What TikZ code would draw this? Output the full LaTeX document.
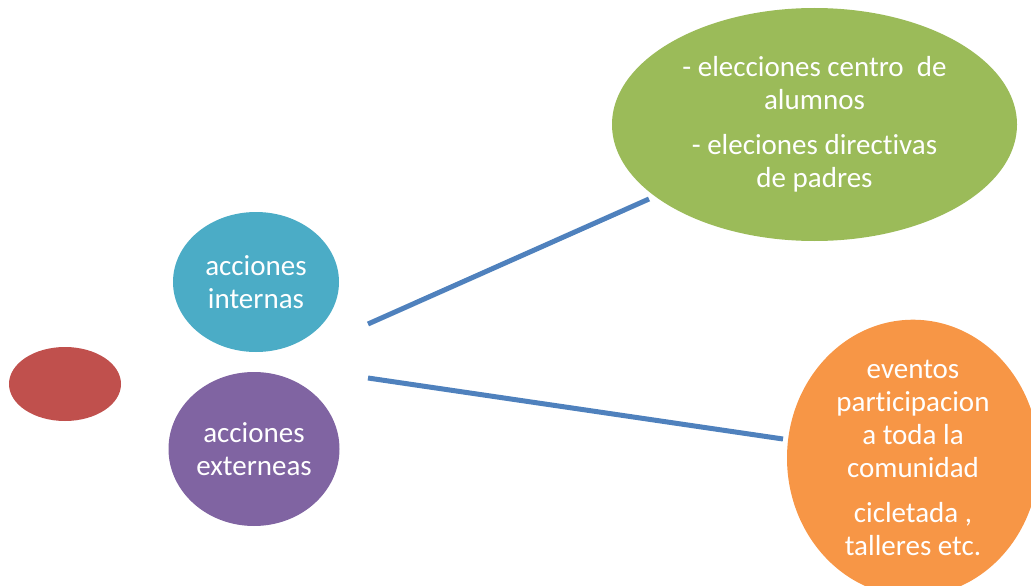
\documentclass[tikz,border=0pt]{standalone}
\usepackage{fontspec}
\setmainfont{Carlito}[Ligatures={NoCommon,NoContextual}]
\usetikzlibrary{shapes.geometric}
\definecolor{cred}{HTML}{C0504D}
\definecolor{ccyan}{HTML}{4BACC6}
\definecolor{cpurple}{HTML}{8064A2}
\definecolor{cgreen}{HTML}{9BBB59}
\definecolor{corange}{HTML}{F79646}
\definecolor{cline}{HTML}{4F81BD}
\tikzset{
  blob/.style={ellipse, inner sep=0pt, text=white, align=center,
    font=\fontsize{29}{33}\selectfont},
  link/.style={draw=cline, line width=5pt}
}
\begin{document}
\begin{tikzpicture}[x=1pt,y=-1pt]
\useasboundingbox (0,0) rectangle (1031,586);
\clip (0,0) rectangle (1031,586);
\node[blob, fill=cred, minimum width=112pt, minimum height=74pt] (root) at (65,384) {};
\node[blob, fill=ccyan, minimum width=166pt, minimum height=140pt] (int) at (256,282) {acciones\\internas};
\node[blob, fill=cpurple, minimum width=171pt, minimum height=154pt] (ext) at (254,449) {acciones\\externeas};
\node[blob, fill=cgreen, minimum width=405pt, minimum height=233pt] (elec) at (814.5,124.5)
  {- elecciones centro~ de\\alumnos\\[12pt]- eleciones directivas\\de padres};
\node[blob, fill=corange, minimum width=252pt, minimum height=262pt] (ev) at (913,458)
  {eventos\\participacion\\a toda la\\comunidad\\[12pt]cicletada ,\\talleres etc.};
\coordinate (a1) at (368,324);
\coordinate (b1) at (649,199);
\coordinate (a2) at (368,378);
\coordinate (b2) at (783,439);
\draw[link] (a1) -- (b1);
\draw[link] (a2) -- (b2);
\end{tikzpicture}
\end{document}
